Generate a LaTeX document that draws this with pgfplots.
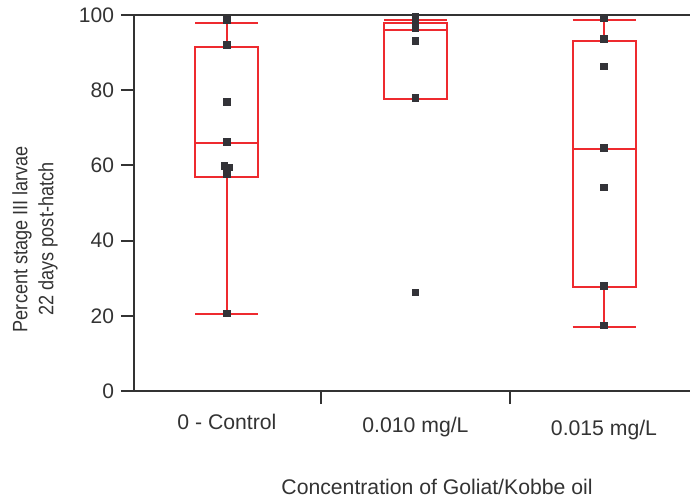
\documentclass[border=0pt]{standalone}
\usepackage{fontspec}
\setmainfont{Liberation Sans}
\newfontfamily\narrowfont{Liberation Sans}[FakeStretch=0.87]
\usepackage{pgfplots}
\pgfplotsset{compat=1.18}
\usepgfplotslibrary{statistics}

\definecolor{axiscol}{HTML}{333333}
\definecolor{boxred}{HTML}{EE2A2F}
\definecolor{markcol}{HTML}{333338}

\newcommand{\ylbl}{\narrowfont\fontsize{10.4bp}{13bp}\selectfont}
\newcommand{\lbl}{\fontsize{10.6bp}{13bp}\selectfont}

\begin{document}
\begin{tikzpicture}
\begin{axis}[
    name=ax,
    scale only axis,
    width=278bp, height=188bp,
    xmin=-0.493, xmax=2.456,
    ymin=0, ymax=100,
    axis x line=bottom, axis y line=left,
    axis line style={-, draw=axiscol, line width=1bp},
    tick style={draw=axiscol, line width=1bp},
    tick align=outside,
    ytick={0,20,...,100},
    major tick length=6.5bp,
    minor tick length=6.5bp,
    yticklabel style={font=\fontsize{10.5bp}{12bp}\selectfont, text=axiscol},
    /pgf/number format/assume math mode=true,
    xtick={0,1,2},
    minor xtick={0.5,1.5},
    xticklabels={0 - Control, \raisebox{-1.5bp}{0.010 mg/L}, \raisebox{-3bp}{0.015 mg/L}},
    major x tick style={draw=none},
    minor x tick style={draw=axiscol, line width=1bp},
    xticklabel style={font=\lbl, text=axiscol, anchor=base, yshift=-12.5bp},
    ylabel={Percent stage III larvae\\22 days post-hatch},
    ylabel style={at={(axis description cs:-0.178,0.404)}, anchor=center, align=center, font=\ylbl, text=axiscol},
    xlabel={Concentration of Goliat/Kobbe oil},
    xlabel style={at={(axis description cs:0.545,-0.2766)}, anchor=base, font=\lbl, text=axiscol},
    clip=false,
]
\addplot+[mark=none, draw=boxred, line width=1bp, boxplot/draw direction=y,
    boxplot prepared={draw position=0, box extend=0.334, whisker extend=0.334,
    lower whisker=20.4, lower quartile=57.0, median=65.9,
    upper quartile=91.4, upper whisker=98.0}] coordinates {};
\addplot+[mark=none, draw=boxred, line width=1bp, boxplot/draw direction=y,
    boxplot prepared={draw position=1, box extend=0.334, whisker extend=0.334,
    lower whisker=77.6, lower quartile=77.6, median=96.0,
    upper quartile=97.9, upper whisker=98.7}] coordinates {};
\addplot+[mark=none, draw=boxred, line width=1bp, boxplot/draw direction=y,
    boxplot prepared={draw position=2, box extend=0.334, whisker extend=0.334,
    lower whisker=16.9, lower quartile=27.6, median=64.3,
    upper quartile=93.2, upper whisker=98.7}] coordinates {};

\addplot[only marks, mark=square*, mark size=1.6bp, color=markcol] coordinates {
    (0,98.7) (0,92.0) (0,76.9) (0,66.3)
    (-0.012,59.9) (0.012,59.4) (0,58.5) (0,57.7) (0,20.6)
    (1,99.6) (1,98.8) (1,97.6) (1,96.6) (1,93.1) (1,78.0) (1,26.3)
    (2,99.1) (2,93.6) (2,86.4) (2,64.7) (2,54.1) (2,28.0) (2,17.4)
};
\draw[axiscol, line width=1bp] (rel axis cs:0,1) -- (rel axis cs:1,1);
\end{axis}
\pgfresetboundingbox
\path[use as bounding box] ([shift={(-67bp,-55.5bp)}]ax.south west) rectangle ([shift={(0bp,7.5bp)}]ax.north east);
\end{tikzpicture}
\end{document}
